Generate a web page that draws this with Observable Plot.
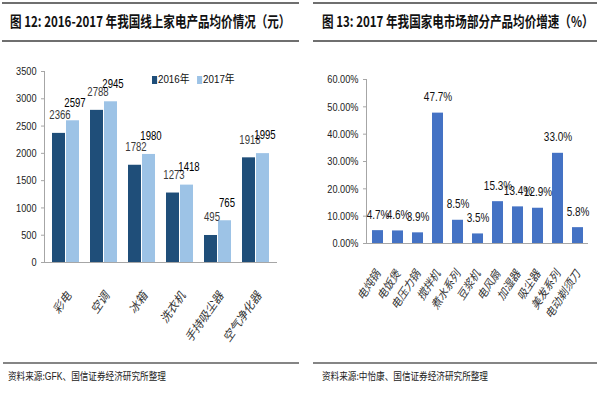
<!DOCTYPE html>
<html>
<head>
<meta charset="utf-8">
<script src="https://cdn.jsdelivr.net/npm/d3@7"></script>
<script src="https://cdn.jsdelivr.net/npm/@observablehq/plot@0.6"></script>
<style>
  html, body { margin: 0; padding: 0; background: #fff; }
  #page { position: relative; width: 597px; height: 394px; overflow: hidden; background: #fff; }
  .rule { position: absolute; background: #6f6f6f; }
  .title { position: absolute; top: 11px; font-family: "Liberation Sans Narrow", "Arial Narrow", "Noto Sans CJK SC", sans-serif; font-weight: bold; font-size: 15px; line-height: 20px; white-space: nowrap; color: #111; transform: scaleX(0.77); transform-origin: left center; }
  .title .cjk { font-family: "Noto Sans CJK SC", sans-serif; }
  .source { position: absolute; top: 369px; font-family: "Noto Sans CJK SC", sans-serif; font-size: 10.5px; line-height: 14px; white-space: nowrap; color: #222; transform: scaleX(0.82); transform-origin: left center; }
  .source .lat { font-family: "Liberation Sans", Arial, sans-serif; }
  .chart { position: absolute; top: 45px; }
  .legend { position: absolute; top: 72px; left: 152px; font-family: "Liberation Sans", Arial, sans-serif; font-size: 11.5px; line-height: 12px; color: #111; white-space: nowrap; transform: scaleX(0.85); transform-origin: left center; }
  .legend span.sw { display: inline-block; width: 6px; height: 8px; vertical-align: -1px; margin-right: 1px; }
  .legend span.item { margin-right: 9px; }
</style>
</head>
<body>
<div id="page">
  <div class="rule" style="left:2px; top:2px; width:297px; height:1.5px;"></div>
  <div class="rule" style="left:2px; top:40px; width:297px; height:1.5px;"></div>
  <div class="rule" style="left:313px; top:2px; width:284px; height:1.5px;"></div>
  <div class="rule" style="left:313px; top:40px; width:284px; height:1.5px;"></div>
  <div class="title" id="t1" style="left:10px;"></div>
  <div class="title" id="t2" style="left:322px;"></div>
  <div class="chart" id="c1" style="left:0px;"></div>
  <div class="chart" id="c2" style="left:300px;"></div>
  <div class="legend" id="lg"></div>
  <div class="rule" style="left:3px; top:362px; width:296px; height:2px; background:#858585;"></div>
  <div class="rule" style="left:313px; top:362px; width:284px; height:2px; background:#858585;"></div>
  <div class="source" style="left:8px;">资料来源:<span class="lat">GFK</span>、国信证券经济研究所整理</div>
  <div class="source" style="left:322px;">资料来源:中怡康、国信证券经济研究所整理</div>
</div>
<script>
// ---------- data: left chart ----------
const leftCats = ["彩电", "空调", "冰箱", "洗衣机", "手持吸尘器", "空气净化器"];
const price2016 = [2366, 2788, 1782, 1273, 495, 1918];
const price2017 = [2597, 2945, 1980, 1418, 765, 1995];
const leftTicks = [0, 500, 1000, 1500, 2000, 2500, 3000, 3500];
const seriesNames = ["2016年", "2017年"];

// ---------- data: right chart ----------
const rightCats = ["电炖锅", "电饭煲", "电压力锅", "搅拌机", "煮水系列", "豆浆机", "电风扇", "加湿器", "吸尘器", "美发系列", "电动剃须刀"];
const growth = [4.7, 4.6, 3.9, 47.7, 8.5, 3.5, 15.3, 13.4, 12.9, 33.0, 5.8];
const rightTicks = [0, 10, 20, 30, 40, 50, 60];

const NUM = '"Liberation Sans", Arial, sans-serif';
const CJK = '"Noto Sans CJK SC", sans-serif';
const C16 = "#1F4E79", C17 = "#9DC3E6", CBLUE = "#4472C4", AXIS = "#A6A6A6";

// titles
document.getElementById("t1").innerHTML = `图 12: 2016-2017 <span class="cjk">年我国线上家电产品均价情况（元）</span>`;
document.getElementById("t2").innerHTML = `图 13: 2017 <span class="cjk">年我国家电市场部分产品均价增速（</span>%<span class="cjk">）</span>`;

// legend
document.getElementById("lg").innerHTML = seriesNames.map((n, i) =>
  `<span class="item"><span class="sw" style="background:${i ? C17 : C16}"></span>${n.replace("年", "")}<span style="font-family:'Noto Sans CJK SC'">年</span></span>`).join("");

// condense numeric texts (the reference uses a narrow face)
function narrow(svg, k) {
  svg.querySelectorAll('g[aria-label="text"] text, g[aria-label="y-axis tick label"] text').forEach(t => {
    const tr = t.getAttribute("transform");
    if (tr) t.setAttribute("transform", `${tr} scale(${k},1)`);
  });
}

const rows = leftCats.map((c, i) => ({cat: c, v16: price2016[i], v17: price2017[i]}));

const left = Plot.plot({
  width: 300, height: 300,
  marginLeft: 44, marginRight: 23, marginTop: 26, marginBottom: 83,
  style: {fontFamily: NUM, fontSize: "10.5px", background: "transparent", overflow: "visible", color: "#222"},
  x: {domain: leftCats, paddingInner: 0.28, paddingOuter: 0.14},
  y: {domain: [0, 3500]},
  marks: [
    Plot.axisY({ticks: leftTicks, tickFormat: d => String(d), tickSize: 3, tickPadding: 5, stroke: AXIS, fill: "#222", fontSize: 11.5, label: null}),
    Plot.frame({anchor: "left", stroke: AXIS}),
    Plot.barY(rows, {x: "cat", y: "v16", fill: C16, insetRight: 14}),
    Plot.barY(rows, {x: "cat", y: "v17", fill: C17, insetLeft: 14}),
    Plot.ruleY([0], {stroke: AXIS}),
    Plot.text(rows, {x: "cat", y: "v16", text: d => String(d.v16), dx: -6, dy: -18, fill: "#3a3a3a", fontSize: 12}),
    Plot.text(rows, {x: "cat", y: "v17", text: d => String(d.v17), dx: 9, dy: -18, fill: "#000", fontSize: 12}),
    Plot.axisX({tickRotate: -55, tickSize: 0, tickPadding: 31, dx: 3, fontFamily: CJK, fontStyle: "italic", fontSize: 11.5, fill: "#333", label: null})
  ]
});
narrow(left, 0.8);
document.getElementById("c1").appendChild(left);

const rrows = rightCats.map((c, i) => ({cat: c, v: growth[i]}));
const right = Plot.plot({
  width: 297, height: 300,
  marginLeft: 66, marginRight: 9, marginTop: 34, marginBottom: 102,
  style: {fontFamily: NUM, fontSize: "10.5px", background: "transparent", overflow: "visible", color: "#222"},
  x: {domain: rightCats, paddingInner: 0.46, paddingOuter: 0.2},
  y: {domain: [0, 60]},
  marks: [
    Plot.axisY({ticks: rightTicks, tickFormat: d => d.toFixed(2) + "%", tickSize: 3, tickPadding: 5, stroke: AXIS, fill: "#222", fontSize: 11.5, label: null}),
    Plot.frame({anchor: "left", stroke: AXIS}),
    Plot.barY(rrows, {x: "cat", y: "v", fill: CBLUE}),
    Plot.ruleY([0], {stroke: AXIS}),
    Plot.text(rrows, {x: "cat", y: "v", text: d => d.v.toFixed(1) + "%", dy: -16, fill: "#111", fontSize: 12.5}),
    Plot.axisX({tickRotate: -57, tickSize: 0, tickPadding: 28, fontFamily: CJK, fontStyle: "italic", fontSize: 11, fill: "#333", label: null})
  ]
});
narrow(right, 0.8);
document.getElementById("c2").appendChild(right);
</script>
</body>
</html>
